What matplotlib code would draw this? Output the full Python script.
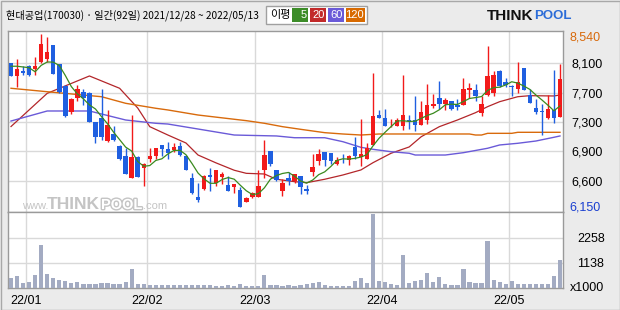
import numpy as np
import pandas as pd
import matplotlib
matplotlib.use("Agg")
import matplotlib.pyplot as plt
import matplotlib.patheffects as pe
from matplotlib.patches import Rectangle

# daily candles, 2021/12/28 ~ 2022/05/13 (92 trading days)
opens = [8100, 7930, 8000, 8060, 8020, 8120, 8160, 8350, 8090, 7790,
         7440, 7620, 7710, 7700, 7300, 7350, 7040, 7140, 6970, 6840,
         6540, 6820, 6670, 6800, 6840, 6990, 6930, 6920, 6970, 6840,
         6540, 6270, 6380, 6570, 6460, 6550, 6440, 6410, 6370, 6210,
         6270, 6270, 6640, 6900, 6640, 6350, 6530, 6490, 6560, 6380,
         6620, 6760, 6890, 6870, 6720, 6800, 6780, 6960, 6820, 6800,
         6990, 7400, 7360, 7240, 7240, 7240, 7320, 7320, 7260, 7320,
         7520, 7620, 7550, 7580, 7530, 7530, 7740, 7740, 7420, 7670,
         7700, 8000, 7850, 7790, 7750, 8030, 7670, 7490, 7450, 7350,
         7460, 7370]
highs = [8110, 8160, 8060, 8080, 8190, 8500, 8460, 8350, 8090, 7800,
         7620, 7800, 7750, 7710, 7300, 7750, 7460, 7240, 6990, 6940,
         7400, 6830, 6740, 6950, 6950, 6990, 7030, 7010, 7030, 6850,
         6600, 6460, 6580, 6670, 6650, 6610, 6560, 6450, 6410, 6270,
         6340, 6640, 7050, 6900, 6650, 6520, 6620, 6590, 6560, 6440,
         6860, 6930, 6890, 6880, 6820, 6860, 6850, 7090, 7340, 7010,
         7970, 7460, 7470, 7340, 7350, 7940, 7400, 7650, 7590, 7820,
         7680, 7860, 7620, 7590, 7610, 7900, 7830, 7820, 7650, 8330,
         7990, 8010, 7900, 7800, 8120, 8040, 7750, 7610, 7550, 7670,
         8010, 8090]
lows = [7920, 7780, 7940, 7920, 7940, 8100, 8120, 7950, 7690, 7370,
        7410, 7580, 7530, 7300, 7010, 7050, 7030, 7040, 6780, 6590,
        6530, 6550, 6420, 6750, 6790, 6830, 6790, 6890, 6840, 6640,
        6320, 6200, 6370, 6350, 6430, 6450, 6350, 6330, 6140, 6200,
        6260, 6270, 6530, 6700, 6490, 6290, 6440, 6470, 6320, 6320,
        6560, 6710, 6700, 6730, 6710, 6740, 6710, 6800, 6700, 6790,
        6990, 7360, 7240, 7230, 7240, 7190, 7200, 7170, 7260, 7270,
        7490, 7470, 7460, 7460, 7460, 7530, 7620, 7590, 7380, 7650,
        7650, 7780, 7780, 7650, 7700, 7730, 7560, 7410, 7120, 7340,
        7290, 7370]
closes = [7930, 8020, 7970, 7940, 8060, 8370, 8250, 7960, 7710, 7380,
          7610, 7750, 7620, 7300, 7100, 7090, 7260, 7050, 6790, 6590,
          6820, 6550, 6720, 6840, 6940, 6930, 6880, 6960, 6850, 6640,
          6330, 6230, 6560, 6550, 6640, 6590, 6360, 6450, 6140, 6260,
          6330, 6420, 6850, 6730, 6510, 6470, 6490, 6590, 6410, 6360,
          6680, 6860, 6780, 6770, 6780, 6790, 6840, 6830, 6860, 6950,
          7380, 7360, 7240, 7250, 7330, 7400, 7310, 7260, 7440, 7530,
          7550, 7550, 7600, 7480, 7510, 7750, 7760, 7660, 7550, 7930,
          7940, 7790, 7810, 7770, 7840, 7740, 7560, 7430, 7430, 7480,
          7360, 7890]
# volume, x1000 shares
volumes = [448, 523, 239, 269, 582, 1926, 627, 448, 358, 313,
           209, 269, 179, 179, 179, 224, 224, 164, 194, 269,
           836, 179, 179, 134, 134, 134, 119, 119, 119, 119,
           119, 119, 119, 119, 90, 90, 119, 90, 164, 75,
           75, 105, 567, 119, 119, 90, 119, 105, 119, 164,
           224, 254, 119, 90, 90, 90, 105, 299, 433, 224,
           3300, 328, 284, 164, 134, 1463, 209, 299, 343, 657,
           254, 478, 164, 119, 119, 836, 254, 224, 224, 2090,
           343, 254, 164, 313, 164, 164, 164, 164, 164, 164,
           523, 1239]

# moving averages (day index, price)
ma5_head = [8060, 8060, 8050, 8040]
ma20_idx = [0, 6, 13, 18, 21, 23, 26, 29, 31, 34, 37, 39, 42, 44, 47, 49,
            52, 55, 58, 60, 63, 66, 68, 71, 74, 77, 79, 81, 84, 86, 90, 91]
ma20_val = [7237, 7690, 7927, 7759, 7490, 7235, 7121, 7012, 6848, 6740,
            6640, 6598, 6589, 6517, 6484, 6470, 6517, 6575, 6644, 6743,
            6872, 6958, 7098, 7235, 7326, 7426, 7508, 7576, 7644, 7658,
            7654, 7667]
ma60_idx = [0, 6, 13, 19, 24, 26, 31, 37, 39, 44, 47, 52, 55, 58, 60, 63,
            66, 67, 70, 72, 75, 79, 81, 84, 87, 90, 91]
ma60_val = [7312, 7449, 7449, 7326, 7281, 7271, 7203, 7121, 7117, 7108,
            7084, 7084, 7030, 6953, 6926, 6893, 6872, 6848, 6848, 6848,
            6880, 6940, 6985, 7008, 7039, 7090, 7108]
ma120_idx = [0, 6, 15, 19, 24, 26, 31, 37, 39, 42, 45, 48, 52, 55, 58, 61,
             66, 76, 77, 78, 79, 83, 84, 91]
ma120_val = [7759, 7712, 7644, 7554, 7486, 7463, 7394, 7336, 7317, 7281,
             7235, 7199, 7153, 7135, 7121, 7135, 7135, 7135, 7121, 7121,
             7144, 7144, 7158, 7158]

month_start = [3, 23, 41, 62, 83]
month_labels = ["22/01", "22/02", "22/03", "22/04", "22/05"]
price_ticks = [8100, 7700, 7300, 6900, 6497]
price_labels = ["8,100", "7,700", "7,300", "6,900", "6,600"]
vol_ticks = [1138, 2258]

UP = "#f21a1a"
DOWN = "#1f5fe0"
GRID = "#d9d9d9"
EDGE = "#9a9a9a"
FONT = ["Liberation Sans", "DejaVu Sans"]
KFONT = ["Noto Sans CJK KR", "DejaVu Sans"]

W, H = 620, 310
fig = plt.figure(figsize=(W / 100, H / 100), dpi=100, facecolor="#ebebeb")


def frac(x0, y0, x1, y1):
    return [x0 / W, 1 - y1 / H, (x1 - x0) / W, (y1 - y0) / H]


ax = fig.add_axes(frac(8, 31, 563, 212))
axv = fig.add_axes(frac(8, 212, 563, 288))

n = len(closes)
x = np.arange(n)
o = np.array(opens, float)
c = np.array(closes, float)
cols = [UP if cc >= oo else DOWN for oo, cc in zip(o, c)]

for a in (ax, axv):
    a.set_facecolor("white")
    a.set_xlim(-0.5, n - 0.5)
    for s in a.spines.values():
        s.set_color(EDGE)
        s.set_linewidth(1)
    for m in month_start:
        a.axvline(m - 0.5, color=GRID, lw=1, zorder=0)
    a.tick_params(length=0, labelsize=9, colors="black")
    a.yaxis.tick_right()

# price panel
ax.set_ylim(6070, 8541)
for t in price_ticks:
    ax.axhline(t, color=GRID, lw=1, zorder=0)
ax.set_yticks(price_ticks)
ax.set_yticklabels(price_labels, fontfamily=FONT)
ax.tick_params(axis="y", pad=6)
ax.set_xticks([])

ax.vlines(x, lows, highs, colors=cols, lw=1, zorder=3)
body = np.maximum(np.abs(c - o), 10)
ax.bar(x, body, bottom=np.minimum(o, c), width=0.74, color=cols, zorder=4)

ma5 = pd.Series(closes).rolling(5).mean().to_numpy()
ma5[:4] = ma5_head
ax.plot(x, ma5, color="#3a8a1e", lw=0.9, zorder=5)
ax.plot(ma20_idx, ma20_val, color="#b3262a", lw=0.9, zorder=2)
ax.plot(ma60_idx, ma60_val, color="#6a5ad8", lw=1, zorder=2)
ax.plot(ma120_idx, ma120_val, color="#d86a0c", lw=1, zorder=2)

ax.text(1.012, (212 - 38) / 181, "8,540", transform=ax.transAxes, color="#d86a0c",
        fontsize=9, fontfamily=FONT, va="center", ha="left")
ax.text(1.012, (212 - 207) / 181, "6,150", transform=ax.transAxes, color="#1a3fd0",
        fontsize=9, fontfamily=FONT, va="center", ha="left")


# watermark
def wm(px, py, s, color="#c4c4c4", **kw):
    ax.text((px - 8) / 555, (212 - py) / 181, s, transform=ax.transAxes,
            color=color, va="baseline", ha="left", zorder=1, **kw)


wm(22, 209, "www.", fontsize=8, fontfamily=FONT)
wm(47, 209, "THINK", fontsize=12.5, fontweight="bold", fontfamily=FONT)
wm(101, 209, "POOL", fontsize=10.5, fontweight="bold", fontfamily=FONT, color="white",
   path_effects=[pe.withStroke(linewidth=2, foreground="#c4c4c4")])
wm(143, 209, ".com", fontsize=8, fontfamily=FONT)

# volume panel
axv.set_ylim(0, 3405)
for t in vol_ticks:
    axv.axhline(t, color=GRID, lw=1, zorder=0)
axv.set_yticks(vol_ticks)
axv.set_yticklabels(["1138", "2258"], fontfamily=FONT)
axv.tick_params(axis="y", pad=10)
axv.bar(x, volumes, width=0.7, color="#a3abc2", zorder=3)
axv.set_xticks([m - 0.5 for m in month_start])
axv.set_xticklabels(month_labels, fontfamily=FONT)
axv.tick_params(axis="x", pad=5)
axv.text(1.012, 0.0, "x1000", transform=axv.transAxes, fontsize=9, fontfamily=FONT,
         va="center", ha="left")

# header overlay in pixel coordinates
ov = fig.add_axes([0, 0, 1, 1], facecolor="none")
ov.set_xlim(0, W)
ov.set_ylim(H, 0)
ov.axis("off")
ov.add_patch(Rectangle((0.5, 0.5), W - 1, H - 1, fill=False, ec="#a8a8a8", lw=1))
ov.text(6, 15, "현대공업(170030) · 일간(92일) 2021/12/28 ~ 2022/05/13",
        fontsize=7.3, fontfamily=KFONT, va="center", ha="left")
ov.add_patch(Rectangle((266, 5.5), 101, 18, fc="white", ec="#a0a0a0", lw=1))
ov.text(270, 15, "이평", fontsize=8, fontfamily=KFONT, va="center", ha="left")
boxes = [(292, 308, "#3c8c28", "5"), (310, 326, "#c22a2a", "20"),
         (328, 344, "#6a5ad8", "60"), (346, 365, "#d86a00", "120")]
for x0, x1, col, lab in boxes:
    ov.add_patch(Rectangle((x0, 8), x1 - x0, 14, fc=col, ec="none"))
    ov.text(x1 - 1.5, 15.5, lab, color="white", fontsize=8, fontfamily=FONT,
            va="center", ha="right")
ov.text(487, 16, "THINK", fontsize=11, fontweight="bold", fontfamily=FONT,
        va="center", ha="left", color="#111111")
ov.text(534, 16, "POOL", fontsize=9.5, fontweight="bold", fontfamily=FONT,
        va="center", ha="left", color="#2b6cd8")

fig.savefig("out.png", dpi=100, facecolor=fig.get_facecolor())
